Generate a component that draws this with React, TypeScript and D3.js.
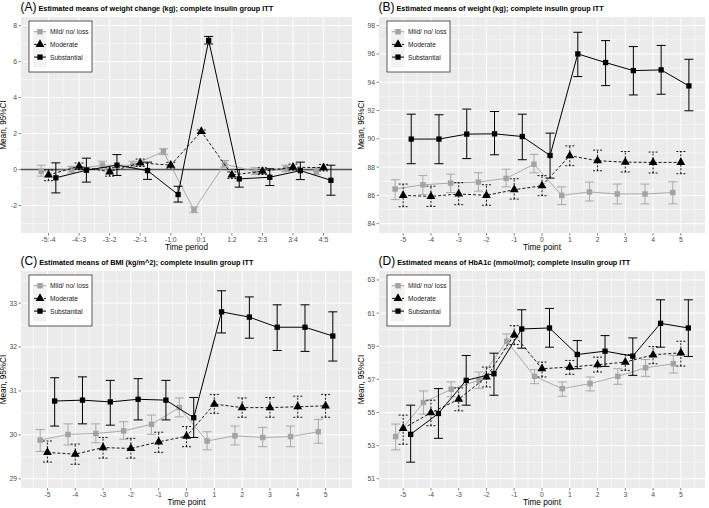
import * as d3 from "d3";

type Row = [number, number, number]; // mean, lower, upper

const periodLabels = ["-5:-4", "-4:-3", "-3:-2", "-2:-1", "-1:0", "0:1", "1:2", "2:3", "3:4", "4:5"];
const timePoints = [-5, -4, -3, -2, -1, 0, 1, 2, 3, 4, 5];
const groupNames = ["Mild/ no/ loss", "Moderate", "Substantial"];

// (A) weight change (kg)
const changeMild: Row[] = [
  [-0.1, -0.37, 0.24], [0.0, -0.18, 0.18], [0.24, 0.0, 0.46], [0.24, 0.04, 0.46], [1.0, 0.83, 1.16],
  [-2.25, -2.4, -2.08], [0.3, 0.13, 0.5], [-0.1, -0.28, 0.1], [0.05, -0.13, 0.24], [-0.1, -0.28, 0.1],
];
const changeModerate: Row[] = [
  [-0.3, -0.62, -0.02], [0.18, 0.0, 0.36], [-0.13, -0.37, 0.1], [0.37, 0.17, 0.58], [0.24, 0.08, 0.4],
  [2.12, 2.02, 2.2], [-0.3, -0.5, -0.13], [-0.1, -0.28, 0.1], [0.13, -0.04, 0.3], [0.1, -0.08, 0.28],
];
const changeSubstantial: Row[] = [
  [-0.46, -1.3, 0.37], [-0.04, -0.7, 0.63], [0.24, -0.33, 0.83], [-0.06, -0.55, 0.41], [-1.39, -1.81, -0.93],
  [7.18, 6.98, 7.4], [-0.52, -0.98, 0.0], [-0.43, -0.89, 0.04], [-0.06, -0.56, 0.41], [-0.6, -1.43, 0.24],
];

// (B) weight (kg)
const weightMild: Row[] = [
  [86.45, 85.7, 87.1], [86.75, 86.05, 87.4], [86.87, 86.2, 87.5], [86.94, 86.3, 87.6], [87.2, 86.6, 87.85],
  [88.2, 87.6, 88.9], [86.0, 85.35, 86.6], [86.24, 85.6, 86.94], [86.1, 85.4, 86.8], [86.1, 85.4, 86.8],
  [86.2, 85.4, 86.96],
];
const weightModerate: Row[] = [
  [86.0, 85.2, 86.8], [85.93, 85.22, 86.65], [86.1, 85.34, 86.9], [86.0, 85.3, 86.75], [86.4, 85.74, 87.18],
  [86.68, 85.98, 87.4], [88.8, 88.1, 89.5], [88.45, 87.74, 89.2], [88.35, 87.65, 89.1], [88.33, 87.58, 89.06],
  [88.33, 87.53, 89.1],
];
const weightSubstantial: Row[] = [
  [89.98, 88.24, 91.74], [89.98, 88.24, 91.7], [90.33, 88.6, 92.1], [90.35, 88.87, 91.93], [90.16, 88.52, 91.74],
  [88.82, 87.22, 90.4], [96.0, 94.4, 97.53], [95.39, 93.76, 96.94], [94.82, 93.1, 96.52], [94.87, 93.15, 96.6],
  [93.74, 91.98, 95.62],
];

// (C) BMI
const bmiMild: Row[] = [
  [29.88, 29.62, 30.12], [30.01, 29.77, 30.25], [30.03, 29.82, 30.25], [30.09, 29.9, 30.3], [30.24, 30.01, 30.45],
  [30.62, 30.41, 30.84], [29.86, 29.66, 30.07], [29.98, 29.77, 30.2], [29.94, 29.73, 30.17], [29.96, 29.73, 30.2],
  [30.07, 29.81, 30.35],
];
const bmiModerate: Row[] = [
  [29.6, 29.38, 29.86], [29.56, 29.33, 29.79], [29.71, 29.47, 29.94], [29.69, 29.47, 29.92], [29.84, 29.6, 30.06],
  [29.97, 29.73, 30.19], [30.7, 30.49, 30.92], [30.62, 30.4, 30.84], [30.62, 30.4, 30.85], [30.64, 30.4, 30.88],
  [30.66, 30.4, 30.92],
];
const bmiSubstantial: Row[] = [
  [30.77, 30.2, 31.3], [30.79, 30.25, 31.32], [30.75, 30.22, 31.24], [30.81, 30.34, 31.28], [30.79, 30.34, 31.24],
  [30.39, 29.94, 30.85], [32.8, 32.32, 33.28], [32.68, 32.2, 33.14], [32.45, 31.92, 32.96], [32.45, 31.9, 32.96],
  [32.25, 31.68, 32.8],
];

// (D) HbA1c
const hba1cMild: Row[] = [
  [53.54, 52.74, 54.3], [55.6, 54.9, 56.3], [56.4, 55.95, 56.85], [56.94, 56.44, 57.44], [59.3, 58.84, 59.74],
  [57.18, 56.74, 57.58], [56.44, 55.98, 56.84], [56.74, 56.3, 57.14], [57.18, 56.7, 57.64], [57.7, 57.18, 58.2],
  [57.94, 57.38, 58.44],
];
const hba1cModerate: Row[] = [
  [54.04, 53.08, 54.84], [54.98, 54.2, 55.74], [55.8, 55.1, 56.48], [57.14, 56.54, 57.74], [59.68, 59.1, 60.24],
  [57.64, 57.14, 58.04], [57.74, 57.3, 58.14], [57.88, 57.44, 58.34], [58.04, 57.54, 58.5], [58.48, 57.94, 58.98],
  [58.6, 57.8, 59.3],
];
const hba1cSubstantial: Row[] = [
  [53.68, 52.0, 55.44], [54.94, 53.44, 56.44], [56.94, 55.44, 58.44], [57.34, 56.04, 58.58], [60.04, 58.88, 61.2],
  [60.1, 58.94, 61.28], [58.5, 57.64, 59.34], [58.7, 57.78, 59.64], [58.4, 57.24, 59.5], [60.38, 58.94, 61.8],
  [60.1, 58.38, 61.8],
];

const changeTicks = [-2, 0, 2, 4, 6, 8];
const weightTicks = [84, 86, 88, 90, 92, 94, 96, 98];
const bmiTicks = [29, 30, 31, 32, 33];
const hba1cTicks = [51, 53, 55, 57, 59, 61, 63];

type Panel = {
  tag: string;
  title: string;
  xTitle: string;
  xs: number[];
  xLabels: string[];
  xDomain: [number, number];
  yDomain: [number, number];
  yTicks: number[];
  series: Row[][];
  left: number;
  right: number;
  top: number;
  bottom: number;
  dodge: number;
  zeroLine?: boolean;
};

const panels: Panel[] = [
  {
    tag: "(A)", title: "Estimated means of weight change (kg); complete insulin group ITT", xTitle: "Time period",
    xs: periodLabels.map((_, i) => i), xLabels: periodLabels, xDomain: [-0.9, 9.93], yDomain: [-3.53, 8.48],
    yTicks: changeTicks, series: [changeMild, changeModerate, changeSubstantial],
    left: 21, right: 352, top: 17, bottom: 233, dodge: 0.24, zeroLine: true,
  },
  {
    tag: "(B)", title: "Estimated means of weight (kg); complete insulin group ITT", xTitle: "Time point",
    xs: timePoints, xLabels: timePoints.map(String), xDomain: [-5.87, 5.87], yDomain: [83.34, 98.61],
    yTicks: weightTicks, series: [weightMild, weightModerate, weightSubstantial],
    left: 379, right: 705, top: 17, bottom: 233, dodge: 0.29,
  },
  {
    tag: "(C)", title: "Estimated means of BMI (kg/m^2); complete insulin group ITT", xTitle: "Time point",
    xs: timePoints, xLabels: timePoints.map(String), xDomain: [-5.95, 5.95], yDomain: [28.79, 33.73],
    yTicks: bmiTicks, series: [bmiMild, bmiModerate, bmiSubstantial],
    left: 21, right: 352, top: 271, bottom: 488, dodge: 0.26,
  },
  {
    tag: "(D)", title: "Estimated means of HbA1c (mmol/mol); complete insulin group ITT", xTitle: "Time point",
    xs: timePoints, xLabels: timePoints.map(String), xDomain: [-5.87, 5.87], yDomain: [50.44, 63.54],
    yTicks: hba1cTicks, series: [hba1cMild, hba1cModerate, hba1cSubstantial],
    left: 379, right: 705, top: 271, bottom: 488, dodge: 0.27,
  },
];

const font = "'Liberation Sans', Arial, sans-serif";
const grey = "#a3a3a3";
const seriesStyle = [
  { color: grey, dash: undefined as string | undefined, shape: d3.symbolSquare, size: 30, offset: -1, width: 0.9 },
  { color: "#000", dash: "3 2", shape: d3.symbolTriangle, size: 34, offset: 0, width: 0.9 },
  { color: "#000", dash: undefined as string | undefined, shape: d3.symbolSquare, size: 28, offset: 1, width: 1 },
];

function ChartPanel({ p }: { p: Panel }) {
  const x = d3.scaleLinear().domain(p.xDomain).range([p.left, p.right]);
  const y = d3.scaleLinear().domain(p.yDomain).range([p.bottom, p.top]);
  const step = p.yTicks[1] - p.yTicks[0];
  const yMinor = d3.range(p.yTicks[0] - step / 2, p.yDomain[1], step).filter((v) => v > p.yDomain[0]);
  const xMinor = p.xs.slice(0, -1).map((v) => v + 0.5);
  xMinor.unshift(p.xs[0] - 0.5);
  xMinor.push(p.xs[p.xs.length - 1] + 0.5);
  const capHalf = 4.5;
  const legX = p.left + 8;
  const legY = p.top + 4;
  const midY = (p.top + p.bottom) / 2;

  return (
    <g>
      <text x={p.left - 0.5} y={p.top - 6} fontFamily={font}>
        <tspan fontSize={12}>{p.tag}</tspan>
        <tspan dx={2} fontSize={7.3} fontWeight="bold">{p.title}</tspan>
      </text>
      <rect x={p.left} y={p.top} width={p.right - p.left} height={p.bottom - p.top} fill="#ebebeb" />
      {yMinor.map((v) => (
        <line key={`ym${v}`} x1={p.left} x2={p.right} y1={y(v)} y2={y(v)} stroke="#fff" strokeWidth={0.5} />
      ))}
      {xMinor.map((v) => (
        <line key={`xm${v}`} x1={x(v)} x2={x(v)} y1={p.top} y2={p.bottom} stroke="#fff" strokeWidth={0.5} />
      ))}
      {p.yTicks.map((v) => (
        <line key={`y${v}`} x1={p.left} x2={p.right} y1={y(v)} y2={y(v)} stroke="#fff" strokeWidth={1} />
      ))}
      {p.xs.map((v) => (
        <line key={`x${v}`} x1={x(v)} x2={x(v)} y1={p.top} y2={p.bottom} stroke="#fff" strokeWidth={1} />
      ))}
      {p.zeroLine && (
        <line x1={p.left} x2={p.right} y1={y(0)} y2={y(0)} stroke="#555" strokeWidth={1.4} />
      )}

      {p.yTicks.map((v) => (
        <g key={`yt${v}`}>
          <line x1={p.left - 2.5} x2={p.left} y1={y(v)} y2={y(v)} stroke="#333" strokeWidth={0.6} />
          <text x={p.left - 4} y={y(v)} textAnchor="end" dominantBaseline="central" fontSize={6.8}
            fill="#4d4d4d" fontFamily={font}>{v}</text>
        </g>
      ))}
      {p.xs.map((v, i) => (
        <g key={`xt${v}`}>
          <line x1={x(v)} x2={x(v)} y1={p.bottom} y2={p.bottom + 2.5} stroke="#333" strokeWidth={0.6} />
          <text x={x(v)} y={p.bottom + 8.8} textAnchor="middle" fontSize={6.8} fill="#4d4d4d"
            fontFamily={font}>{p.xLabels[i]}</text>
        </g>
      ))}
      <text x={(p.left + p.right) / 2} y={p.bottom + 17} textAnchor="middle" fontSize={8.2}
        fontFamily={font}>{p.xTitle}</text>
      <text transform={`translate(${p.left - 15},${midY}) rotate(-90)`} textAnchor="middle" fontSize={8.2}
        fontFamily={font}>Mean, 95%CI</text>

      {p.series.map((rows, si) => {
        const st = seriesStyle[si];
        const px = (i: number) => x(p.xs[i] + st.offset * p.dodge);
        const line = d3.line<Row>().x((_, i) => px(i)).y((d) => y(d[0]));
        const sym = d3.symbol(st.shape, st.size)();
        return (
          <g key={si}>
            <path d={line(rows) ?? ""} fill="none" stroke={st.color} strokeWidth={st.width}
              strokeDasharray={st.dash} />
            {rows.map((d, i) => (
              <g key={i} stroke={st.color} strokeWidth={st.width} strokeDasharray={st.dash ? "2 1.5" : undefined}>
                <line x1={px(i)} x2={px(i)} y1={y(d[1])} y2={y(d[2])} />
                <line x1={px(i) - capHalf} x2={px(i) + capHalf} y1={y(d[1])} y2={y(d[1])} />
                <line x1={px(i) - capHalf} x2={px(i) + capHalf} y1={y(d[2])} y2={y(d[2])} />
              </g>
            ))}
            {rows.map((d, i) => (
              <path key={`s${i}`} d={sym ?? ""} transform={`translate(${px(i)},${y(d[0])})`}
                fill={st.color} />
            ))}
          </g>
        );
      })}

      <rect x={legX} y={legY} width={63} height={51} fill="#fff" stroke="#333" strokeWidth={0.8} />
      <rect x={legX + 4} y={legY + 8.5} width={13.5} height={38} fill="#f2f2f2" />
      {groupNames.map((name, i) => {
        const st = seriesStyle[i];
        const ry = legY + 14.7 + i * 12.7 - 4;
        return (
          <g key={name}>
            <line x1={legX + 5} x2={legX + 17} y1={ry} y2={ry} stroke={st.color} strokeWidth={st.width}
              strokeDasharray={st.dash} />
            <path d={d3.symbol(st.shape, st.size)() ?? ""} transform={`translate(${legX + 11},${ry})`}
              fill={st.color} />
            <text x={legX + 21} y={ry} dominantBaseline="central" fontSize={6.6} fill="#1a1a1a"
              fontFamily={font}>{name}</text>
          </g>
        );
      })}
    </g>
  );
}

export default function App() {
  return (
    <div style={{ position: "fixed", left: 0, top: 0, background: "#fff" }}>
      <svg width={709} height={508} viewBox="0 0 709 508">
        <rect width={709} height={508} fill="#fff" />
        {panels.map((p) => (
          <ChartPanel key={p.tag} p={p} />
        ))}
      </svg>
    </div>
  );
}
